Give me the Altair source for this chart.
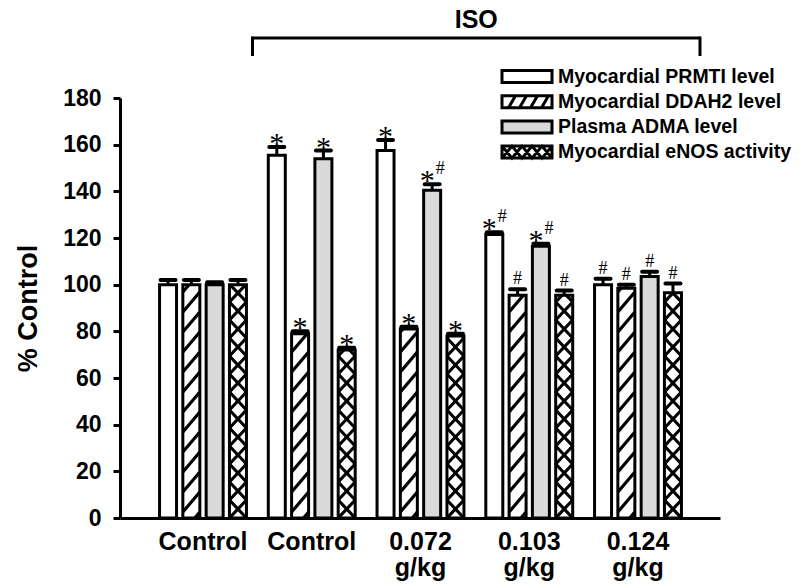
import altair as alt
import pandas as pd

# ---------------- data ----------------
groups = ["Control", "Control", "0.072\ng/kg", "0.103\ng/kg", "0.124\ng/kg"]
series = ["Myocardial PRMTI level", "Myocardial DDAH2 level",
          "Plasma ADMA level", "Myocardial eNOS activity"]

prmt1 = [100, 155.5, 157.5, 121.5, 100]
ddah2 = [100, 79, 81, 95.5, 98.5]
adma = [100, 154, 140.5, 116.5, 103.5]
enos = [100, 72, 78, 95.5, 96.5]

prmt1_err = [2, 3.5, 4.5, 1, 2.5]
ddah2_err = [2, 1, 1, 2.5, 1.5]
adma_err = [1, 3.5, 2.5, 1, 2]
enos_err = [2, 1, 1, 2, 4]

prmt1_sig = ["", "*", "*", "*#", "#"]
ddah2_sig = ["", "*", "*", "#", "#"]
adma_sig = ["", "*", "*#", "*#", "#"]
enos_sig = ["", "*", "*", "#", "#"]

y_ticks = [0, 20, 40, 60, 80, 100, 120, 140, 160, 180]

# ---------------- layout / style ----------------
W, H = 600, 420
X_MIN, X_MAX = -0.7632, 4.754
PX_X = W / (X_MAX - X_MIN)
PX_Y = H / 180.0
BAR_STEP = 23.3 / PX_X
BAR_HALF = 8.5 / PX_X
CAP_HALF = 7.5 / PX_X
FONT = "Liberation Sans"
SERIF = "Liberation Serif"
ADMA_FILL = "#dadada"
fills = ["white", "white", ADMA_FILL, "white"]
hatch_kind = [None, "slash", None, "cross"]

values = [prmt1, ddah2, adma, enos]
errs = [prmt1_err, ddah2_err, adma_err, enos_err]
sigs = [prmt1_sig, ddah2_sig, adma_sig, enos_sig]

rows = []
for s, name in enumerate(series):
    for g in range(len(groups)):
        xc = g + (s - 1.5) * BAR_STEP
        v = values[s][g]
        e = errs[s][g]
        rows.append(dict(series=name, g=g, xc=xc, xl=xc - BAR_HALF, xr=xc + BAR_HALF,
                         cl=xc - CAP_HALF, cr=xc + CAP_HALF, value=v, top=v + e, zero=0,
                         sig=sigs[s][g], fill=fills[s], kind=hatch_kind[s]))
bars = pd.DataFrame(rows)


def hatch_segments(xl, v, rise, step, direction, phase):
    wpx = 2 * BAR_HALF * PX_X
    hpx = v * PX_Y
    segs = []
    y0 = -rise + phase
    while y0 < hpx:
        if direction > 0:
            t0 = max(0.0, (0 - y0) / rise)
            t1 = min(1.0, (hpx - y0) / rise)
            if t0 < t1:
                segs.append((xl + wpx * t0 / PX_X, (y0 + rise * t0) / PX_Y,
                             xl + wpx * t1 / PX_X, (y0 + rise * t1) / PX_Y))
        else:
            t0 = max(0.0, (y0 + rise - hpx) / rise)
            t1 = min(1.0, (y0 + rise) / rise)
            if t0 < t1:
                segs.append((xl + wpx * t0 / PX_X, (y0 + rise * (1 - t0)) / PX_Y,
                             xl + wpx * t1 / PX_X, (y0 + rise * (1 - t1)) / PX_Y))
        y0 += step
    return segs


hrows = []
for r in rows:
    if r["kind"] == "slash":
        for a in hatch_segments(r["xl"], r["value"], 20, 20, 1, 6):
            hrows.append(dict(x1=a[0], y1=a[1], x2=a[2], y2=a[3]))
    elif r["kind"] == "cross":
        for d in (1, -1):
            for a in hatch_segments(r["xl"], r["value"], 18, 18, d, 0):
                hrows.append(dict(x1=a[0], y1=a[1], x2=a[2], y2=a[3]))
hatch = pd.DataFrame(hrows)

xs = alt.Scale(domain=[X_MIN, X_MAX], nice=False, zero=False)
ys = alt.Scale(domain=[0, 180], nice=False)
AX = alt.Axis(labels=False, ticks=False, grid=False, domainWidth=3, domainColor="black")
AY = alt.Axis(values=y_ticks, grid=False, domainWidth=3, domainColor="black",
              tickWidth=3, tickSize=7, tickColor="black",
              labelFont=FONT, labelFontWeight="bold", labelFontSize=23,
              labelColor="black", labelPadding=12,
              titleFont=FONT, titleFontWeight="bold",
              titleFontSize=27, titleColor="black", titlePadding=20)


def X(f):
    return alt.X(f, scale=xs, axis=AX, title=None)


def Y(f):
    return alt.Y(f, scale=ys, axis=AY, title="% Control")


base = alt.Chart(bars)

bar_fill = base.mark_rect(strokeWidth=0).encode(
    x=X("xl:Q"), x2="xr:Q", y=Y("value:Q"), y2="zero:Q",
    fill=alt.Fill("fill:N", scale=None),
)

hatch_layer = alt.Chart(hatch).mark_rule(strokeWidth=3.2, color="black", strokeCap="butt").encode(
    x=X("x1:Q"), y=Y("y1:Q"), x2="x2:Q", y2="y2:Q")

outline = base.mark_rect(fillOpacity=0, stroke="black", strokeWidth=3).encode(
    x=X("xl:Q"), x2="xr:Q", y=Y("value:Q"), y2="zero:Q")

stem = base.mark_rule(strokeWidth=3, color="black").encode(
    x=X("xc:Q"), y=Y("value:Q"), y2="top:Q")

cap = base.mark_rule(strokeWidth=4, color="black", strokeCap="round").encode(
    x=X("cl:Q"), x2="cr:Q", y=Y("top:Q"))


def sig_layer(cond, txt, size, dx, dy):
    return base.transform_filter(cond).mark_text(
        font=SERIF, fontSize=size, color="black", dx=dx, dy=dy, baseline="alphabetic"
    ).encode(x=X("xc:Q"), y=Y("top:Q"), text=alt.value(txt))


star_solo = sig_layer("datum.sig == '*'", "*", 30, 0, 6)
star_combo = sig_layer("datum.sig == '*#'", "*", 30, -5, 6)
hash_solo = sig_layer("datum.sig == '#'", "#", 18, 0, -5)
hash_combo = sig_layer("datum.sig == '*#'", "#", 18, 8, -10)

gdf = pd.DataFrame({"label": groups, "gx": list(range(len(groups)))})
xlabels = alt.Chart(gdf).mark_text(
    font=FONT, fontWeight="bold", fontSize=25, color="black", lineBreak="\n",
    lineHeight=26, baseline="alphabetic", align="center"
).encode(x=X("gx:Q"), y=alt.value(452), text="label:N")

# ISO bracket (spans the ISO-treated groups)
iso_df = pd.DataFrame({"label": ["ISO"], "a": [1 - 0.545], "b": [len(groups) - 1 + 0.57]})
iso_base = alt.Chart(iso_df)
iso_h = iso_base.mark_rule(strokeWidth=3, color="black").encode(
    x=X("a:Q"), x2="b:Q", y=alt.value(-60))
iso_l = iso_base.mark_rule(strokeWidth=3, color="black").encode(
    x=X("a:Q"), y=alt.value(-61.5), y2=alt.value(-42))
iso_r = iso_base.mark_rule(strokeWidth=3, color="black").encode(
    x=X("b:Q"), y=alt.value(-61.5), y2=alt.value(-42))
iso_t = iso_base.transform_calculate(m="(datum.a + datum.b) / 2").mark_text(
    font=FONT, fontWeight="bold", fontSize=25, color="black", baseline="alphabetic"
).encode(x=X("m:Q"), y=alt.value(-70), text="label:N")

# manual legend with patterned swatches
swatch_paths = [
    "M-1,-0.24L1,-0.24L1,0.24L-1,0.24Z",
    "M-1,-0.24L1,-0.24L1,0.24L-1,0.24Z"
    "M-0.74,0.24L-0.46,-0.24M-0.3,0.24L-0.02,-0.24M0.14,0.24L0.42,-0.24M0.58,0.24L0.86,-0.24",
    "M-1,-0.24L1,-0.24L1,0.24L-1,0.24Z",
    "M-1,-0.24L1,-0.24L1,0.24L-1,0.24Z"
    "M-1,-0.24L-0.6,0.24L-0.2,-0.24L0.2,0.24L0.6,-0.24L1,0.24"
    "M-1,0.24L-0.6,-0.24L-0.2,0.24L0.2,-0.24L0.6,0.24L1,-0.24",
]
LEG_Y0, LEG_DY = -21.5, 25.2
legend_layers = []
for i, name in enumerate(series):
    one = pd.DataFrame({"name": [name]})
    ypx = LEG_Y0 + i * LEG_DY
    legend_layers.append(alt.Chart(one).mark_point(
        shape=swatch_paths[i], size=2500, filled=True, fill=fills[i], opacity=1,
        stroke="black", strokeWidth=3
    ).encode(x=alt.value(407), y=alt.value(ypx)))
    legend_layers.append(alt.Chart(one).mark_text(
        font=FONT, fontWeight="bold", fontSize=19.5, color="black", align="left",
        baseline="middle"
    ).encode(x=alt.value(438), y=alt.value(ypx), text="name:N"))

chart = alt.layer(
    bar_fill, hatch_layer, outline, stem, cap,
    star_solo, star_combo, hash_solo, hash_combo,
    xlabels, iso_h, iso_l, iso_r, iso_t, *legend_layers
).properties(
    width=W, height=H,
    padding={"left": 120, "top": 98, "right": 82, "bottom": 70},
    autosize="none",
    background="white",
).configure_view(stroke=None)

chart.save("out.html", embed_options={"renderer": "svg", "actions": False})
